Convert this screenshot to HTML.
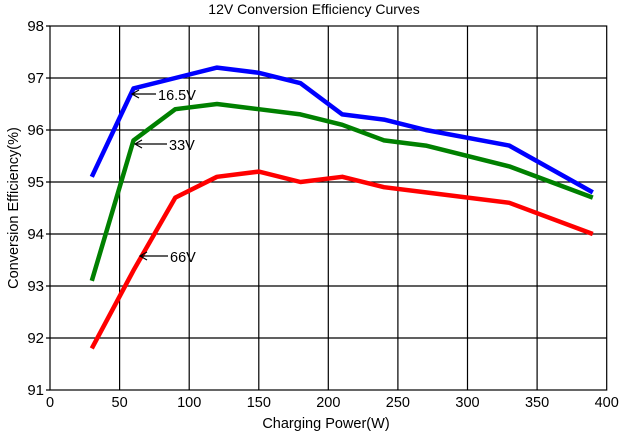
<!DOCTYPE html>
<html><head><meta charset="utf-8"><style>
html,body{margin:0;padding:0;background:#fff;}
svg{display:block;font-family:"Liberation Sans",Arial,sans-serif;}
</style></head><body>
<svg width="622" height="434" viewBox="0 0 622 434" xmlns="http://www.w3.org/2000/svg">
<rect width="622" height="434" fill="#fff"/>
<text x="314" y="14" font-size="14" text-anchor="middle" fill="#000">12V Conversion Efficiency Curves</text>
<g stroke="#000" stroke-width="1.2" fill="none">
<rect x="50" y="26" width="556.7" height="364"/>
<path d="M119.6 26V390M189.2 26V390M258.8 26V390M328.3 26V390M397.9 26V390M467.5 26V390M537.1 26V390"/>
<path d="M50 78H606.7M50 130H606.7M50 182H606.7M50 234H606.7M50 286H606.7M50 338H606.7"/>
<path d="M46 26H50M46 78H50M46 130H50M46 182H50M46 234H50M46 286H50M46 338H50M46 390H50"/>
</g>
<g font-size="15" text-anchor="end" fill="#000">
<text x="44" y="31">98</text><text x="44" y="83">97</text><text x="44" y="135">96</text><text x="44" y="187">95</text>
<text x="44" y="239">94</text><text x="44" y="291">93</text><text x="44" y="343">92</text><text x="44" y="395">91</text>
</g>
<g font-size="14.5" text-anchor="middle" fill="#000">
<text x="50" y="407">0</text><text x="119.6" y="407">50</text><text x="189.2" y="407">100</text><text x="258.8" y="407">150</text>
<text x="328.3" y="407">200</text><text x="397.9" y="407">250</text><text x="467.5" y="407">300</text><text x="537.1" y="407">350</text><text x="606.7" y="407">400</text>
<text x="326" y="428">Charging Power(W)</text>
<text transform="translate(18,208) rotate(-90)">Conversion Efficiency(%)</text>
</g>
<g fill="none" stroke-width="4.5" stroke-linejoin="round">
<polyline stroke="#0000ff" points="91.8,176.8 133.5,88.4 175.3,78 217,67.6 258.8,72.8 300.5,83.2 342.3,114.4 384,119.6 425.8,130 509.3,145.6 592.8,192.4"/>
<polyline stroke="#008000" points="91.8,280.8 133.5,140.4 175.3,109.2 217,104 258.8,109.2 300.5,114.4 342.3,124.8 384,140.4 425.8,145.6 509.3,166.4 592.8,197.6"/>
<polyline stroke="#ff0000" points="91.8,348.4 133.5,270.4 175.3,197.6 217,176.8 258.8,171.6 300.5,182 342.3,176.8 384,187.2 425.8,192.4 509.3,202.8 592.8,234"/>
</g>
<g stroke="#000" stroke-width="1.2" fill="none">
<path d="M132 94H156M139 90L132 94L139 98"/>
<path d="M135 144H167M142 140L135 144L142 148"/>
<path d="M140 256H168M147 252L140 256L147 260"/>
</g>
<g font-size="14.5" fill="#000">
<text x="158" y="100">16.5V</text>
<text x="169" y="150">33V</text>
<text x="170" y="262">66V</text>
</g>
</svg>
</body></html>
